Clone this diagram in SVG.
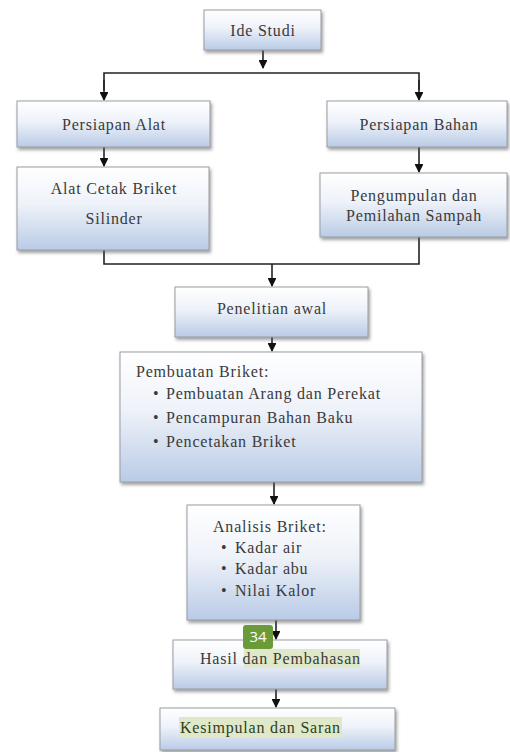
<svg xmlns="http://www.w3.org/2000/svg" width="510" height="752" viewBox="0 0 510 752">
<defs>
<linearGradient id="g" x1="0" y1="0" x2="0" y2="1">
<stop offset="0" stop-color="#ffffff"/>
<stop offset="0.45" stop-color="#eef2f9"/>
<stop offset="1" stop-color="#b9cbe6"/>
</linearGradient>
<filter id="sh" x="-10%" y="-10%" width="125%" height="130%">
<feDropShadow dx="1.5" dy="2.5" stdDeviation="1.5" flood-color="#555" flood-opacity="0.55"/>
</filter>
<marker id="ah" viewBox="0 0 10 10" refX="9" refY="5" markerWidth="5.5" markerHeight="5.5" orient="auto">
<path d="M0,0 L10,5 L0,10 z" fill="#111"/>
</marker>
<style>
.box{fill:url(#g);stroke:#9a9ca3;stroke-width:1;filter:url(#sh)}
.t{font-family:'Liberation Serif','Times New Roman',serif;font-size:16px;letter-spacing:0.8px;fill:#3a3a3a}
.c{text-anchor:middle}
.ln{fill:none;stroke:#222;stroke-width:1.6}
.ar{fill:none;stroke:#222;stroke-width:1.6;marker-end:url(#ah)}
.hl{fill:#dfe8c8}
</style>
</defs>
<rect width="510" height="752" fill="#ffffff"/>
<g id="connectors">
<line class="ar" x1="263" y1="50" x2="263" y2="68"/>
<polyline class="ln" points="104,90 104,73 419,73 419,90"/>
<line class="ar" x1="104" y1="80" x2="104" y2="100"/>
<line class="ar" x1="419" y1="80" x2="419" y2="100"/>
<line class="ar" x1="104" y1="147" x2="104" y2="166"/>
<line class="ar" x1="419" y1="147" x2="419" y2="172"/>
<polyline class="ln" points="104,250 104,264 419,264 419,237"/>
<line class="ar" x1="272" y1="264" x2="272" y2="286"/>
<line class="ar" x1="272" y1="337" x2="272" y2="351"/>
<line class="ar" x1="274" y1="482" x2="274" y2="504"/>
<line class="ar" x1="276" y1="620" x2="276" y2="639"/>
<line class="ar" x1="276" y1="689" x2="276" y2="707"/>
</g>
<g id="ide-studi">
<rect class="box" x="204" y="10" width="117" height="40"/>
<text class="t c" x="263" y="36">Ide Studi</text>
</g>
<g id="persiapan-alat">
<rect class="box" x="17" y="101" width="193" height="46"/>
<text class="t c" x="114" y="130">Persiapan Alat</text>
</g>
<g id="persiapan-bahan">
<rect class="box" x="327" y="101" width="180" height="46"/>
<text class="t c" x="419" y="130">Persiapan Bahan</text>
</g>
<g id="alat-cetak">
<rect class="box" x="17" y="167" width="192" height="83"/>
<text class="t c" x="114" y="194">Alat Cetak Briket</text>
<text class="t c" x="114" y="224">Silinder</text>
</g>
<g id="pengumpulan">
<rect class="box" x="320" y="173" width="187" height="64"/>
<text class="t c" x="414" y="201">Pengumpulan dan</text>
<text class="t c" x="414" y="221">Pemilahan Sampah</text>
</g>
<g id="penelitian-awal">
<rect class="box" x="175" y="287" width="193" height="50"/>
<text class="t c" x="272" y="314">Penelitian awal</text>
</g>
<g id="pembuatan-briket">
<rect class="box" x="120" y="352" width="302" height="130"/>
<text class="t" x="136" y="377">Pembuatan Briket:</text>
<text class="t" x="153" y="399">•</text>
<text class="t" x="166" y="399">Pembuatan Arang dan Perekat</text>
<text class="t" x="153" y="423">•</text>
<text class="t" x="166" y="423">Pencampuran Bahan Baku</text>
<text class="t" x="153" y="447">•</text>
<text class="t" x="166" y="447">Pencetakan Briket</text>
</g>
<g id="analisis-briket">
<rect class="box" x="187" y="505" width="173" height="115"/>
<text class="t" x="213" y="532">Analisis Briket:</text>
<text class="t" x="221" y="553">•</text>
<text class="t" x="235" y="553">Kadar air</text>
<text class="t" x="221" y="574">•</text>
<text class="t" x="235" y="574">Kadar abu</text>
<text class="t" x="221" y="596">•</text>
<text class="t" x="235" y="596">Nilai Kalor</text>
</g>
<g id="hasil">
<rect class="box" x="173" y="640" width="214" height="49"/>
<rect class="hl" x="244" y="649" width="116" height="19"/>
<text class="t" x="200" y="664">Hasil dan Pembahasan</text>
</g>
<g id="kesimpulan">
<rect class="box" x="160" y="708" width="235" height="42"/>
<rect class="hl" x="179" y="717" width="163" height="21"/>
<text class="t" x="180" y="733" style="fill:#2f3d22">Kesimpulan dan Saran</text>
</g>
<g id="badge">
<rect x="243" y="625" width="30" height="24" rx="3" fill="#6b9a3a"/>
<text x="258" y="642" text-anchor="middle" font-family="'Open Sans','DejaVu Sans',sans-serif" font-size="15" fill="#ffffff">34</text>
</g>
</svg>
